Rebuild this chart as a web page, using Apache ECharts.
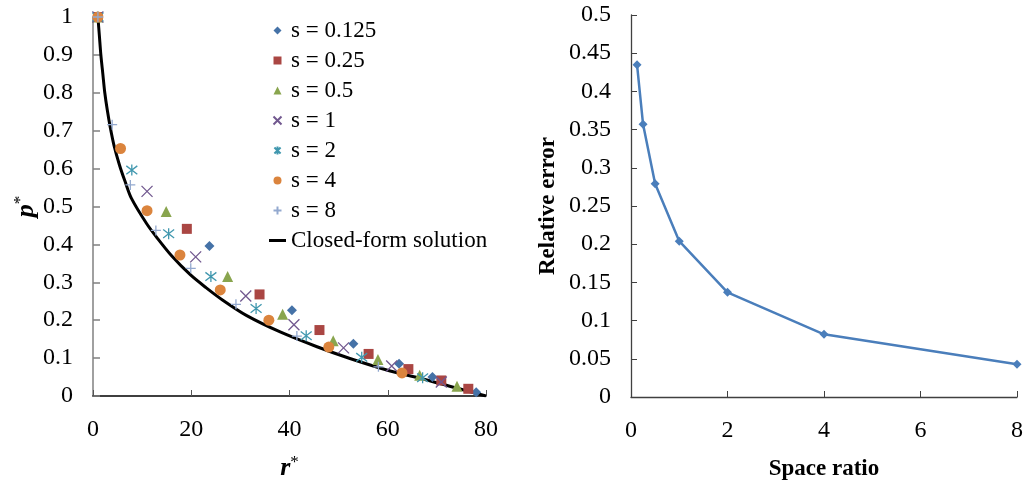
<!DOCTYPE html>
<html>
<head>
<meta charset="utf-8">
<script src="https://cdn.jsdelivr.net/npm/echarts@6/dist/echarts.min.js"></script>
<style>
html,body{margin:0;padding:0;background:#fff;}
#chart{width:1030px;height:486px;}
</style>
</head>
<body>
<div id="chart"></div>
<script>
// ---- Left chart data (r*, p*) ----
const seriesNames = ['s = 0.125', 's = 0.25', 's = 0.5', 's = 1', 's = 2', 's = 4', 's = 8'];
const r_s0125 = [1, 23.7, 40.5, 53.0, 62.3, 69.1, 78.0];
const p_s0125 = [1, 0.396, 0.226, 0.138, 0.085, 0.050, 0.010];
const r_s025 = [1, 19.1, 33.9, 46.1, 56.1, 64.2, 70.9, 76.4];
const p_s025 = [1, 0.441, 0.268, 0.174, 0.111, 0.071, 0.041, 0.019];
const r_s05 = [1, 14.9, 27.4, 38.6, 48.9, 58.0, 66.5, 74.1];
const p_s05 = [1, 0.487, 0.315, 0.216, 0.146, 0.096, 0.055, 0.026];
const r_s1 = [1, 11.0, 20.9, 31.1, 40.9, 51.0, 60.8, 70.9];
const p_s1 = [1, 0.540, 0.367, 0.264, 0.188, 0.127, 0.079, 0.037];
const r_s2 = [1, 7.9, 15.4, 24.0, 33.2, 43.4, 54.7, 67.1];
const p_s2 = [1, 0.596, 0.428, 0.315, 0.231, 0.159, 0.102, 0.048];
const r_s4 = [1, 5.6, 11.0, 17.7, 25.9, 35.8, 48.0, 62.9];
const p_s4 = [1, 0.653, 0.489, 0.372, 0.280, 0.200, 0.129, 0.061];
const r_s8 = [1, 3.9, 7.6, 12.8, 19.9, 29.1, 41.5, 58.1];
const p_s8 = [1, 0.716, 0.557, 0.437, 0.337, 0.242, 0.158, 0.077];
const closedName = 'Closed-form solution';
const r_closed = [1, 1.3, 1.6, 2.0, 2.4, 2.9, 3.5, 4.3, 5.4, 6.5, 7.8, 10.9, 13.0, 16.0, 19.8, 23.0, 26.5, 31.3, 38.1, 45.6, 52.3, 60.5, 66.6, 73.4, 80];
const p_closed = [1, 0.95, 0.9, 0.85, 0.8, 0.755, 0.71, 0.66, 0.609, 0.567, 0.522, 0.455, 0.418, 0.37, 0.32, 0.286, 0.252, 0.212, 0.169, 0.13, 0.099, 0.066, 0.047, 0.023, 0];

// ---- Right chart data ----
const spaceRatio = [0.125, 0.25, 0.5, 1, 2, 4, 8];
const relError = [0.435, 0.357, 0.279, 0.204, 0.137, 0.082, 0.043];

// tick settings
const leftXTicks = {min: 0, max: 80, interval: 20};
const leftYTicks = {min: 0, max: 1, interval: 0.1};
const rightXTicks = {min: 0, max: 8, interval: 2};
const rightYTicks = {min: 0, max: 0.5, interval: 0.05};

const FONT = 'Liberation Serif';
const zip = (a, b) => a.map((v, i) => [v, b[i]]);

const styles = [
  {symbol: 'diamond', size: 10, color: '#4572A7', stroke: false, icon: 'path://M4,0L8,4L4,8L0,4Z'},
  {symbol: 'rect', size: 10, color: '#AA4643', stroke: false, icon: 'path://M0,0L8,0L8,8L0,8Z'},
  {symbol: 'triangle', size: 11, color: '#89A54E', stroke: false, icon: 'path://M4,0L8,8L0,8Z'},
  {symbol: 'path://M0,0L10,10M10,0L0,10', size: 11, color: '#71588F', stroke: true},
  {symbol: 'path://M0,0L10,10M10,0L0,10M5,-1.5L5,11.5', size: 11, color: '#4198AF', stroke: true},
  {symbol: 'circle', size: 11, color: '#DB843D', stroke: false, icon: 'path://M4,0A4,4,0,1,1,3.99,0Z'},
  {symbol: 'path://M5,0L5,10M0,5L10,5', size: 10, color: '#93A9CF', stroke: true}
];
const seriesR = [r_s0125, r_s025, r_s05, r_s1, r_s2, r_s4, r_s8];
const seriesP = [p_s0125, p_s025, p_s05, p_s1, p_s2, p_s4, p_s8];

const scatterSeries = seriesNames.map((n, i) => {
  const st = styles[i];
  return {
    name: n, type: 'scatter', xAxisIndex: 0, yAxisIndex: 0,
    symbol: st.symbol, symbolSize: st.size,
    itemStyle: st.stroke ? {color: 'none', borderColor: st.color, borderWidth: 1.3, opacity: 1} : {color: st.color, opacity: 1},
    data: zip(seriesR[i], seriesP[i]),
    z: 3
  };
});

const legendData = seriesNames.map((n, i) => styles[i].icon ? {name: n, icon: styles[i].icon} : {name: n})
  .concat([{name: closedName, icon: 'path://M0,0L17,0L17,3L0,3Z', itemStyle: {color: '#000'}}]);

const tickLabel = {fontFamily: FONT, fontSize: 24, color: '#000'};

const chart = echarts.init(document.getElementById('chart'), null, {renderer: 'canvas'});
chart.setOption({
  animation: false,
  backgroundColor: '#fff',
  grid: [
    {left: 93, top: 17, width: 393, height: 383},
    {left: 631, top: 15, width: 386, height: 385}
  ],
  legend: {
    orient: 'vertical', left: 264, top: 14,
    itemWidth: 17, itemHeight: 8, itemGap: 7,
    textStyle: {fontFamily: FONT, fontSize: 23, color: '#000'},
    data: legendData
  },
  xAxis: [
    {
      gridIndex: 0, type: 'value', ...leftXTicks,
      name: '{a|r}{b|*}', nameLocation: 'middle', nameGap: 58,
      nameTextStyle: {rich: {
        a: {fontFamily: FONT, fontStyle: 'italic', fontWeight: 'bold', fontSize: 26, lineHeight: 28, color: '#000'},
        b: {fontFamily: FONT, fontSize: 17, verticalAlign: 'top', color: '#000'}
      }},
      axisLine: {show: true, onZero: false, lineStyle: {color: '#000', width: 1.5}},
      axisTick: {show: true, inside: true, length: 6, lineStyle: {color: '#555'}},
      splitLine: {show: false},
      axisLabel: {...tickLabel, margin: 22}
    },
    {
      gridIndex: 1, type: 'value', ...rightXTicks,
      name: 'Space ratio', nameLocation: 'middle', nameGap: 61,
      nameTextStyle: {fontFamily: FONT, fontWeight: 'bold', fontSize: 23, color: '#000'},
      axisLine: {show: true, onZero: false, lineStyle: {color: '#404040', width: 1.3}},
      axisTick: {show: true, inside: true, length: 6, lineStyle: {color: '#404040'}},
      splitLine: {show: false},
      axisLabel: {...tickLabel, margin: 22}
    }
  ],
  yAxis: [
    {
      gridIndex: 0, type: 'value', ...leftYTicks,
      name: '{a|p}{b|*}', nameLocation: 'middle', nameGap: 50, nameRotate: 90,
      nameTextStyle: {rich: {
        a: {fontFamily: FONT, fontStyle: 'italic', fontWeight: 'bold', fontSize: 26, lineHeight: 28, color: '#000'},
        b: {fontFamily: FONT, fontSize: 17, verticalAlign: 'top', color: '#000'}
      }},
      axisLine: {show: true, onZero: false, lineStyle: {color: '#808080', width: 1.5}},
      axisTick: {show: true, inside: true, length: 7, lineStyle: {color: '#808080', width: 1.5}},
      splitLine: {show: false},
      axisLabel: {...tickLabel, margin: 20}
    },
    {
      gridIndex: 1, type: 'value', ...rightYTicks,
      name: 'Relative error', nameLocation: 'middle', nameGap: 71, nameRotate: 90,
      nameTextStyle: {fontFamily: FONT, fontWeight: 'bold', fontSize: 23, color: '#000'},
      axisLine: {show: true, onZero: false, lineStyle: {color: '#404040', width: 1.3}},
      axisTick: {show: true, inside: true, length: 6, lineStyle: {color: '#404040'}},
      splitLine: {show: false},
      axisLabel: {...tickLabel, margin: 20}
    }
  ],
  series: scatterSeries.concat([
    {
      name: closedName, type: 'line', xAxisIndex: 0, yAxisIndex: 0,
      data: zip(r_closed, p_closed), smooth: 0.3, showSymbol: false, symbol: 'none',
      lineStyle: {color: '#000', width: 3}, itemStyle: {color: '#000'}, z: 2
    },
    {
      name: 'Relative error', type: 'line', xAxisIndex: 1, yAxisIndex: 1,
      data: zip(spaceRatio, relError),
      symbol: 'diamond', symbolSize: 9,
      lineStyle: {color: '#4A7EBB', width: 2.5}, itemStyle: {color: '#4A7EBB'}
    }
  ])
});
</script>
</body>
</html>
